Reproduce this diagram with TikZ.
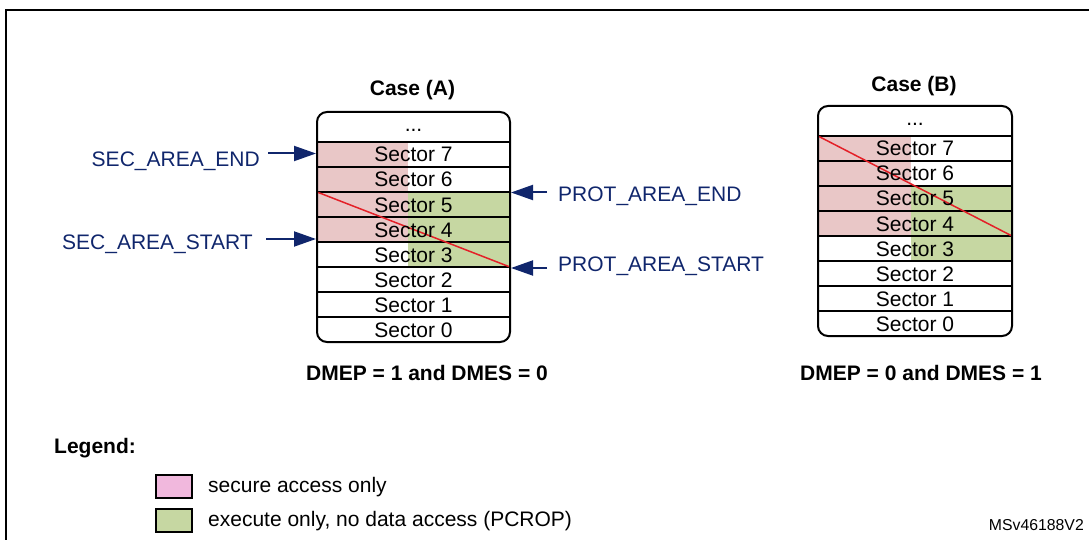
\documentclass[tikz,border=0pt]{standalone}
\usepackage{fontspec}
\setmainfont{Liberation Sans}
\usetikzlibrary{arrows.meta}

\definecolor{secpink}{RGB}{233,199,199}
\definecolor{keypink}{RGB}{241,184,221}
\definecolor{protgreen}{RGB}{198,215,162}
\definecolor{stnavy}{RGB}{16,38,108}
\definecolor{cutred}{RGB}{228,32,40}

\begin{document}
\begin{tikzpicture}[
  x=1pt, y=-1pt,
  sector/.style={
    font=\fontsize{21}{25}\selectfont,
    anchor=base,
    inner sep=0pt
  },
  case_title/.style={
    sector,
    font=\fontsize{21}{25}\selectfont\bfseries
  },
  area_label/.style={
    sector,
    color=stnavy
  },
  area_arrow/.style={
    draw=stnavy,
    line width=2pt,
    -{Triangle[length=22pt,width=15pt]}
  },
  box/.style={
    draw,
    line width=2pt,
    rounded corners=10pt
  },
  divider/.style={
    draw,
    line width=1.2pt
  },
  cut_line/.style={
    draw=cutred,
    line width=1.5pt
  },
  key_box/.style={
    draw,
    line width=1.3pt,
    minimum width=36pt,
    minimum height=23pt,
    inner sep=0pt
  }
]%
\useasboundingbox (0,0) rectangle (1089,540);
% frame
\draw[line width=2.5pt] (6,540) -- (6,10) -- (1089,10);

% case A
\fill[secpink] (317,142) rectangle (408,242);
\fill[protgreen] (408,192) rectangle (510,267);
\foreach \y in {142,167,...,317}
  \draw[divider] (317,\y) -- (510,\y);
\draw[cut_line] (317,192) -- (510,267);
\node[sector] (a_dots) at (413.5,132) {...};
\foreach \i in {0,...,7}
  \node[sector] (a\i) at (413.5,337-25*\i) {Sector \i};
\draw[box] (317,112) rectangle (510,342);
\node[case_title] (case_a) at (412.5,95.5) {Case (A)};
\node[case_title] (cond_a) at (427,380.5) {DMEP = 1 and DMES = 0};

% case B
\fill[secpink] (818,136) rectangle (910.5,236);
\fill[protgreen] (910.5,186) rectangle (1012,261);
\foreach \y in {136,161,...,311}
  \draw[divider] (818,\y) -- (1012,\y);
\draw[cut_line] (818,136) -- (1012,236);
\node[sector] (b_dots) at (915,126) {...};
\foreach \i in {0,...,7}
  \node[sector] (b\i) at (915,331-25*\i) {Sector \i};
\draw[box] (818,106) rectangle (1012,336);
\node[case_title] (case_b) at (914,91.5) {Case (B)};
\node[case_title] (cond_b) at (921,380.5) {DMEP = 0 and DMES = 1};

% area markers
\coordinate (sec_end) at (316,153.5);
\coordinate (sec_start) at (316,239);
\coordinate (prot_end) at (511,192.5);
\coordinate (prot_start) at (511,268);
\node[area_label, anchor=base east] (sec_end_txt) at (260,166.5) {SEC\_AREA\_END};
\node[area_label, anchor=base east] (sec_start_txt) at (253,249) {SEC\_AREA\_START};
\node[area_label, anchor=base west] (prot_end_txt) at (558,202) {PROT\_AREA\_END};
\node[area_label, anchor=base west] (prot_start_txt) at (558,271.5) {PROT\_AREA\_START};
\draw[area_arrow] ([xshift=8pt]sec_end_txt.east |- sec_end) -- (sec_end);
\draw[area_arrow] ([xshift=13pt]sec_start_txt.east |- sec_start) -- (sec_start);
\draw[area_arrow] ([xshift=-11pt]prot_end_txt.west |- prot_end) -- (prot_end);
\draw[area_arrow] ([xshift=-11pt]prot_start_txt.west |- prot_start) -- (prot_start);

% legend
\node[case_title, anchor=base west] (legend) at (54,453.5) {Legend:};
\node[key_box, fill=keypink] (key_sec) at (174,486.5) {};
\node[key_box, fill=protgreen] (key_prot) at (174,520.5) {};
\node[sector, anchor=base west] (key_sec_txt) at (208,492) {secure access only};
\node[sector, anchor=base west] (key_prot_txt) at (208,526) {execute only, no data access (PCROP)};

\node[sector, anchor=base east, font=\fontsize{15.8}{18}\selectfont] (ref) at (1084,530.7) {MSv46188V2};
\end{tikzpicture}
\end{document}
